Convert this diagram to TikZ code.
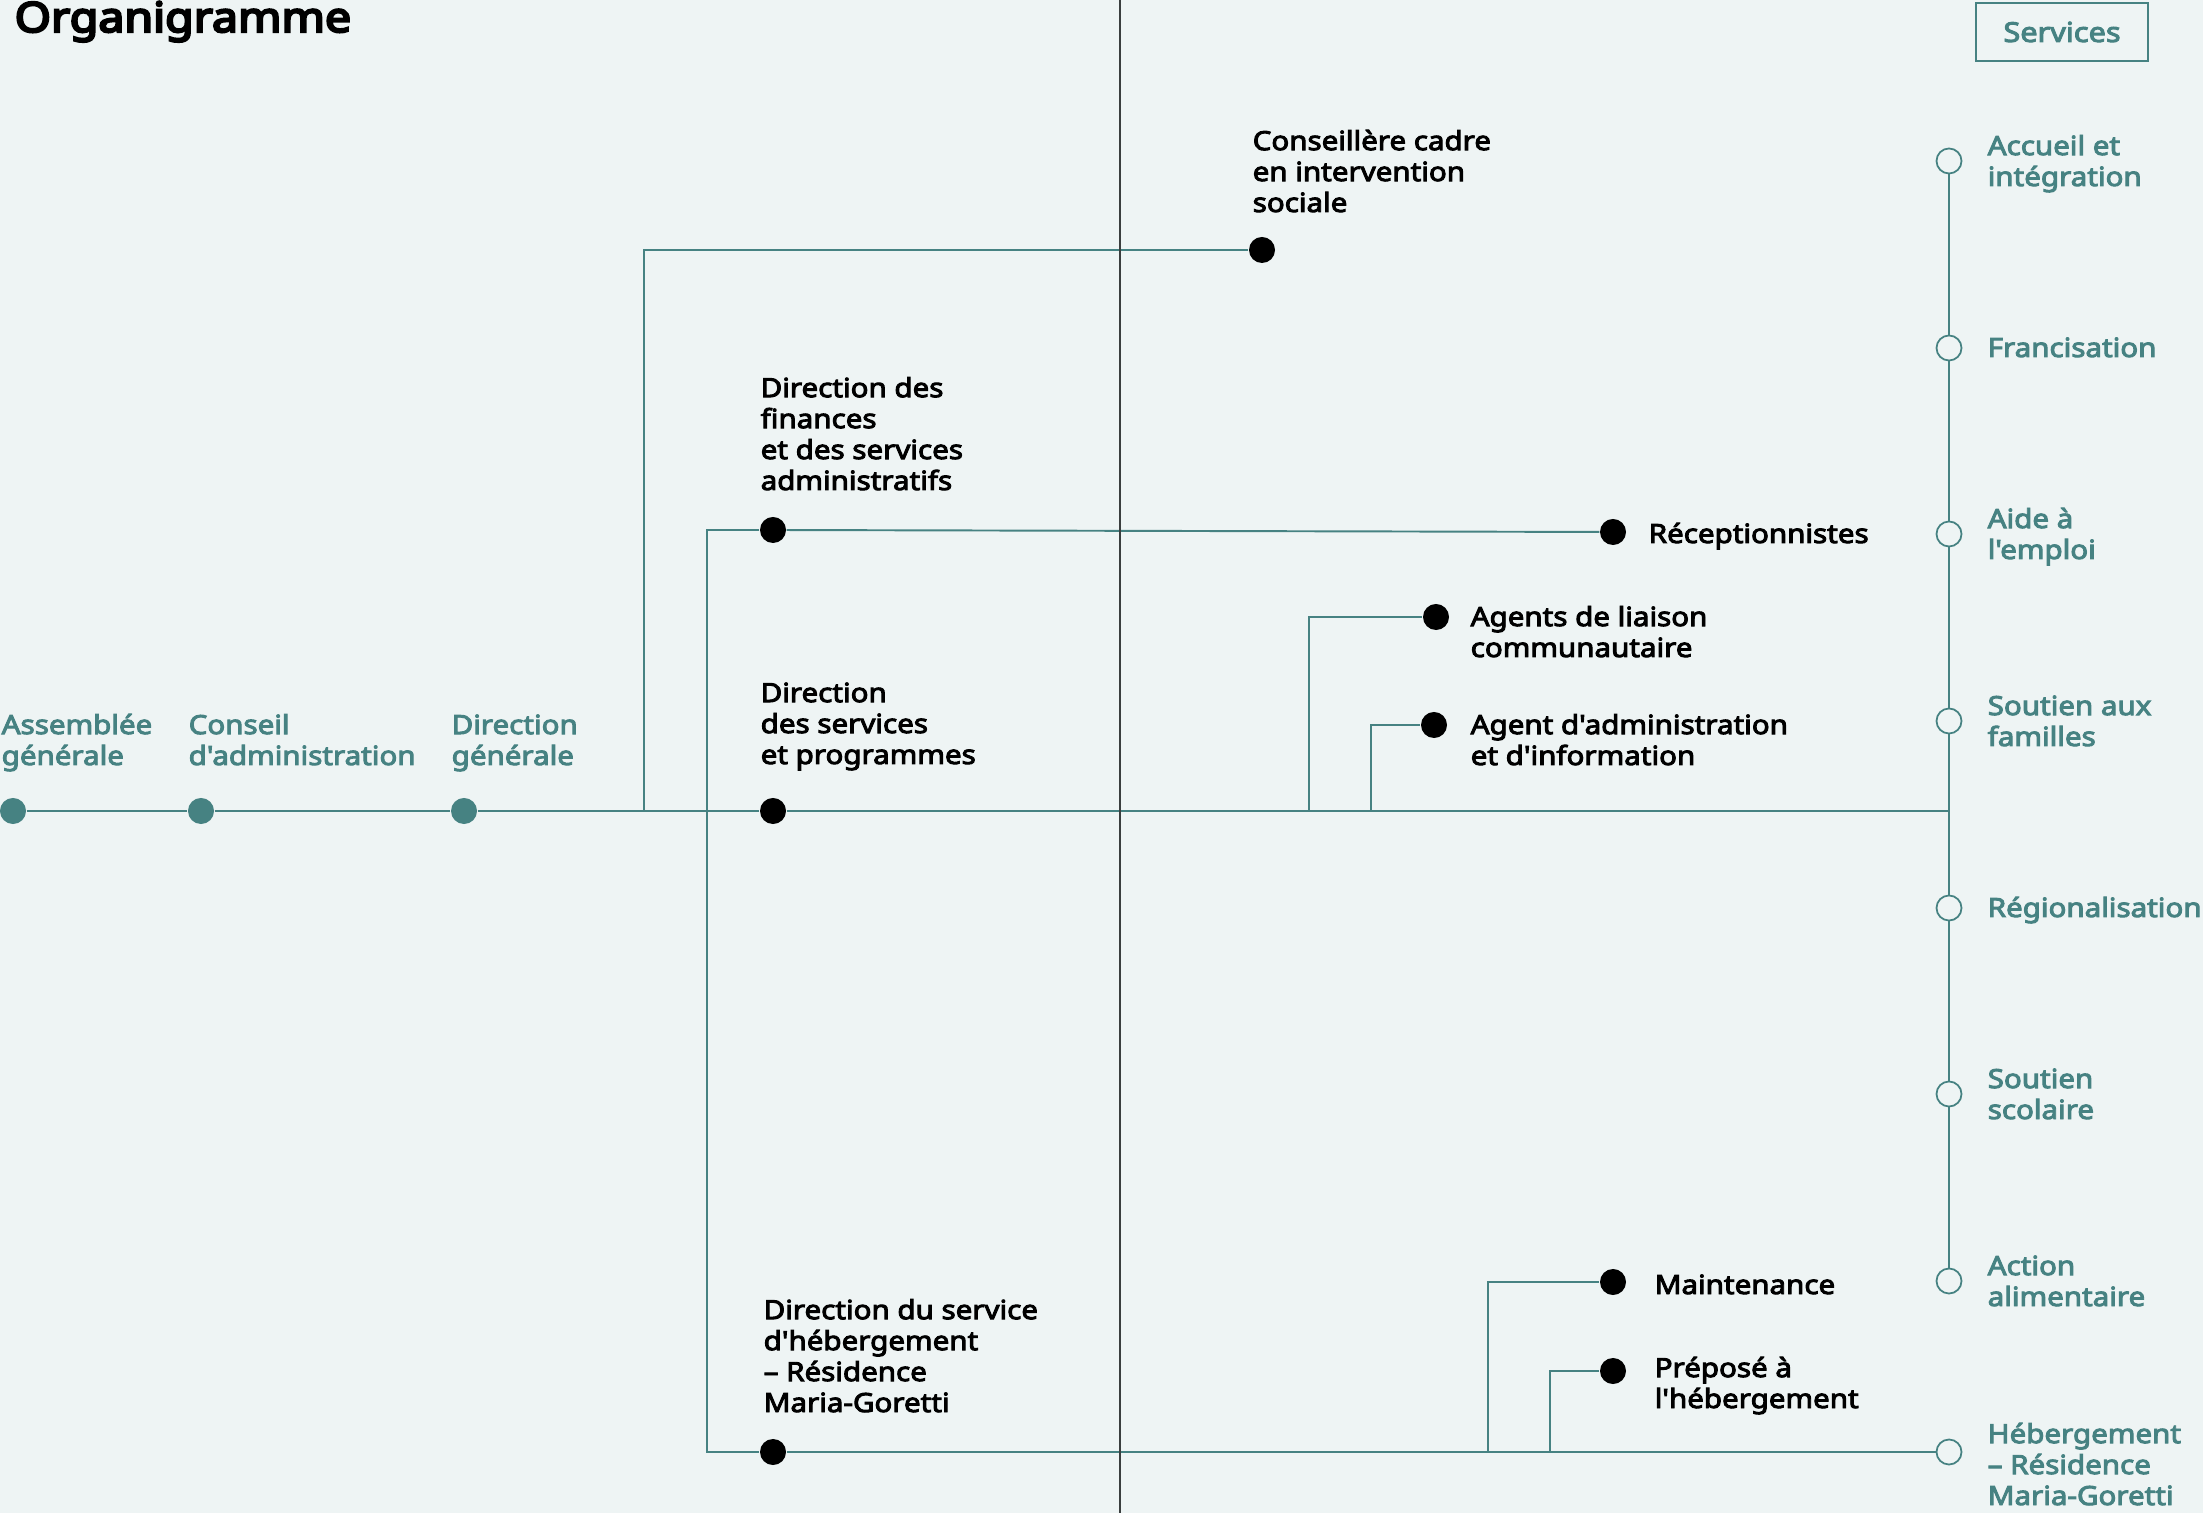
\documentclass[tikz,border=0pt]{standalone}
\usepackage{fontspec}
\setmainfont{Noto Sans}[Ligatures=TeXOff,BoldFont={Noto Sans},BoldFeatures={FakeBold=3.6,FakeStretch=1.12}]
\newfontfamily\titlefont{Noto Sans}[FakeBold=5.5,FakeStretch=1.12]
\usetikzlibrary{positioning}
\definecolor{paper}{RGB}{238,244,244}
\definecolor{sea}{RGB}{70,130,130}
\definecolor{rule}{RGB}{58,62,62}
\tikzset{
  unitname/.style={font=\bfseries\fontsize{7.5}{8.8}\selectfont,align=left,inner sep=0,anchor=base west},
  servname/.style={unitname,text=sea},
  bigdot/.style={circle,fill=black,minimum size=2.6mm,inner sep=0},
  seadot/.style={bigdot,fill=sea},
  ringdot/.style={circle,draw=sea,fill=paper,line width=0.5pt,minimum size=2.5mm,inner sep=0},
  link/.style={draw=sea,line width=0.55pt}
}
\begin{document}
\begin{tikzpicture}[x=0.01cm,y=-0.01cm]
        %% Background
        \fill[paper] (0,0) rectangle (2203,1513);
        \useasboundingbox (0,0) rectangle (2203,1513);
        \node[anchor=base west,inner sep=0,font=\titlefont\fontsize{11.8}{14}\selectfont] (title) at (14,32) {Organigramme};
        %% Governance
        \node[seadot] (ag) at (13,811) {};
        \node[seadot] (ca) at (201,811) {};
        \node[seadot] (dg) at (464,811) {};
        \node[servname] (ag-txt) at (1,765) {Assemblée\\générale};
        \node[servname] (ca-txt) at (188,765) {Conseil\\d'administration};
        \node[servname] (dg-txt) at (451,765) {Direction\\générale};
        %% Directions and staff
        \node[bigdot] (cci) at (1262,250) {};
        \node[bigdot] (dfsa) at (773,530) {};
        \node[bigdot] (dsp) at (773,811) {};
        \node[bigdot] (dsh) at (773,1452) {};
        \node[bigdot] (rec) at (1613,532) {};
        \node[bigdot] (alc) at (1436,617) {};
        \node[bigdot] (aai) at (1434,725) {};
        \node[bigdot] (mnt) at (1613,1282) {};
        \node[bigdot] (peh) at (1613,1371) {};
        \node[unitname] (cci-txt) at (1252,212) {Conseillère cadre\\en intervention\\sociale};
        \node[unitname] (dfsa-txt) at (760,490) {Direction des\\finances\\et des services\\administratifs};
        \node[unitname] (dsp-txt) at (760,764) {Direction\\des services\\et programmes};
        \node[unitname] (dsh-txt) at (763,1412) {Direction du service\\d'hébergement\\– Résidence\\Maria-Goretti};
        \node[unitname] (rec-txt) at (1648,543) {Réceptionnistes};
        \node[unitname] (alc-txt) at (1470,657) {Agents de liaison\\communautaire};
        \node[unitname] (aai-txt) at (1470,765) {Agent d'administration\\et d'information};
        \node[unitname] (mnt-txt) at (1654,1294) {Maintenance};
        \node[unitname] (peh-txt) at (1654,1408) {Préposé à\\l'hébergement};
        %% Services
        \node[draw=sea,line width=0.55pt,text=sea,font=\bfseries\fontsize{7.8}{9}\selectfont,minimum width=1.72cm,minimum height=0.58cm,inner sep=0] (services) at (2062,32) {Services};
        \node[ringdot] (s1) at (1949,161) {};
        \node[ringdot] (s2) at (1949,348) {};
        \node[ringdot] (s3) at (1949,534) {};
        \node[ringdot] (s4) at (1949,721) {};
        \node[ringdot] (s5) at (1949,908) {};
        \node[ringdot] (s6) at (1949,1094) {};
        \node[ringdot] (s7) at (1949,1281) {};
        \node[ringdot] (s8) at (1949,1452) {};
        \node[servname] (s1-txt) at (1987,186) {Accueil et\\intégration};
        \node[servname] (s2-txt) at (1987,357) {Francisation};
        \node[servname] (s3-txt) at (1987,559) {Aide à\\l'emploi};
        \node[servname] (s4-txt) at (1987,746) {Soutien aux\\familles};
        \node[servname] (s5-txt) at (1987,917) {Régionalisation};
        \node[servname] (s6-txt) at (1987,1119) {Soutien\\scolaire};
        \node[servname] (s7-txt) at (1987,1306) {Action\\alimentaire};
        \node[servname] (s8-txt) at (1987,1505) {Hébergement\\– Résidence\\Maria-Goretti};
        %% Links
        \coordinate (fork) at (644,811);
        \coordinate (spine) at (707,530);
        \coordinate (ka) at (1309,811);
        \coordinate (kb) at (1371,811);
        \coordinate (ma) at (1488,1452);
        \coordinate (mb) at (1550,1452);
        \draw[link] (ag) -- (ca) -- (dg) -- (dsp) -- (dsp -| s1);
        \draw[link] (s1) -- (s2) -- (s3) -- (s4) -- (s5) -- (s6) -- (s7);
        \draw[link] (fork) |- (cci);
        \draw[link] (dfsa) -- (spine) -- (spine |- dsh) -- (dsh);
        \draw[link] (dfsa) -- (rec);
        \draw[link] (dsh) -- (s8);
        \draw[link] (ka) |- (alc);
        \draw[link] (kb) |- (aai);
        \draw[link] (ma) |- (mnt);
        \draw[link] (mb) |- (peh);
        %% Divider
        \draw[rule,line width=0.55pt] (1120,0) -- (1120,1513);
\end{tikzpicture}
\end{document}
